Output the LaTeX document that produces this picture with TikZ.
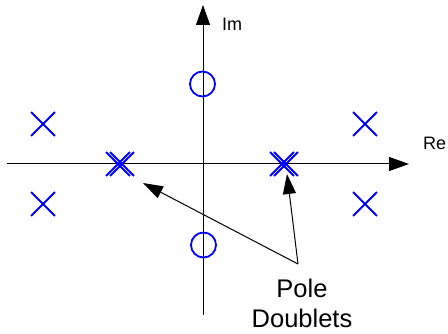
\documentclass[tikz,border=0pt]{standalone}
\usepackage{fontspec}
\setmainfont{Liberation Sans}
\usetikzlibrary{arrows.meta,shapes.misc}
\begin{document}
\begin{tikzpicture}[x=1pt,y=-1pt,
  axis/.style={line width=1pt,-{Triangle[length=20pt,width=14pt]}},
  pole/.style={cross out,draw=blue,line width=1.8pt,minimum size=22pt,inner sep=0pt},
  zero/.style={circle,draw=blue,line width=1.8pt,minimum size=25pt,inner sep=0pt},
  callout/.style={line width=1pt,-{Triangle[length=20pt,width=13pt]}},
  lbl/.style={font=\fontsize{18}{20}\selectfont,inner sep=0pt}]
\useasboundingbox (0,0) rectangle (448,334);
\coordinate (xl) at (7,164);
\coordinate (xr) at (409,164);
\coordinate (yb) at (203,315);
\coordinate (yt) at (203,5);
\draw[axis] (xl) -- (xr);
\draw[axis] (yb) -- (yt);
\node[lbl,anchor=west] (im) at (222,24) {Im};
\node[lbl,anchor=west] (re) at (423,143) {Re};
\node[zero] (z1) at (202.5,84) {};
\node[zero] (z2) at (203.5,245) {};
\node[pole] (p1) at (43,124) {};
\node[pole] (p2) at (43,204) {};
\node[pole] (p3) at (365,124) {};
\node[pole] (p4) at (365,204) {};
\node[pole] (d1a) at (118,164) {};
\node[pole] (d1b) at (122,164) {};
\node[pole] (d2a) at (282,164) {};
\node[pole] (d2b) at (286,164) {};
\coordinate (src) at (298,264);
\coordinate (t1) at (143,183);
\coordinate (t2) at (287,174);
\draw[callout] (src) -- (t1);
\draw[callout] (src) -- (t2);
\node[font=\fontsize{25.5}{30}\selectfont,align=center,inner sep=0pt] (txt) at (302,303) {Pole\\Doublets};
\end{tikzpicture}
\end{document}
